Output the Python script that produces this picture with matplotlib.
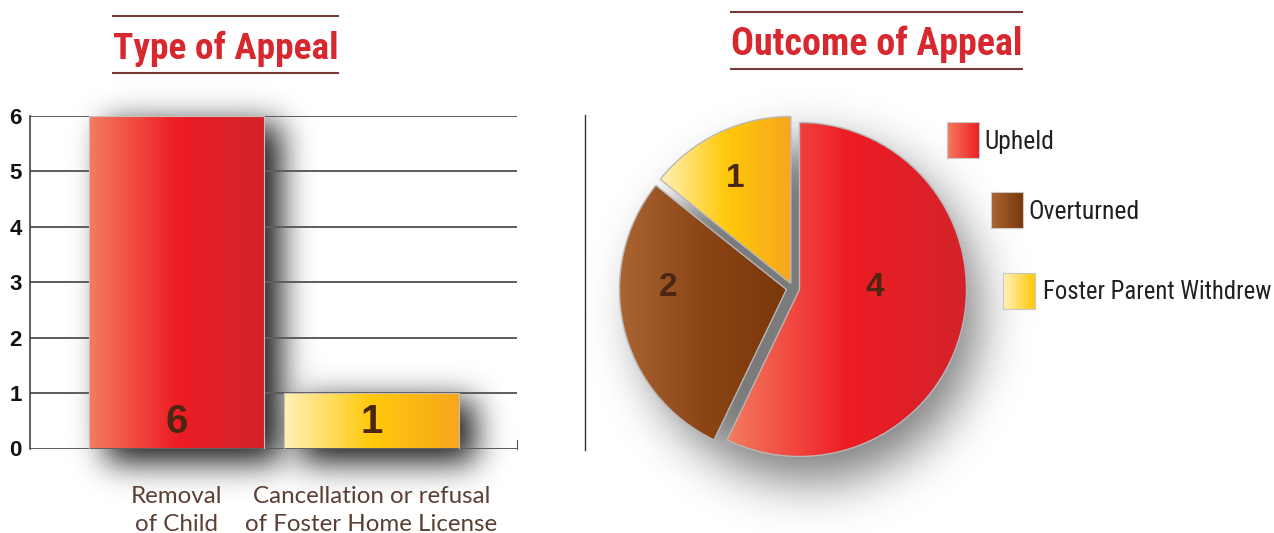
import numpy as np
import matplotlib
matplotlib.use('Agg')
import matplotlib.pyplot as plt
from matplotlib.colors import LinearSegmentedColormap
from matplotlib.lines import Line2D
from matplotlib import font_manager

# data
appeal_types = ['Removal\nof Child', 'Cancellation or refusal\nof Foster Home License']
appeal_counts = [6, 1]
outcomes = ['Upheld', 'Overturned', 'Foster Parent Withdrew']
outcome_counts = [4, 2, 1]
y_ticks = [0, 1, 2, 3, 4, 5, 6]

RED = ['#f47c5f', '#ed1c24', '#d2232a']
BROWN = ['#ab6533', '#8c4517', '#793709']
YELLOW = ['#fff2b8', '#ffc90b', '#f7a71c']
TITLE_RED = '#d7282f'
DARK_BROWN = '#4b2613'

W, H = 1274, 533
entries = font_manager.fontManager.ttflist
names = {f.name for f in entries}


def find_condensed():
    for p in ['Liberation Sans Narrow', 'Roboto Condensed', 'Open Sans Condensed',
              'Noto Sans Condensed', 'DejaVu Sans Condensed']:
        if p in names:
            return p, 'normal'
    for f in entries:
        if 'Narrow' in f.name or 'Condensed' in f.name:
            return f.name, 'normal'
    for fam in ['Noto Sans', 'Open Sans', 'Roboto', 'DejaVu Sans', 'Lato']:
        for f in entries:
            if f.name == fam and 'condensed' in str(f.stretch):
                return fam, f.stretch
    return 'Liberation Sans', 'normal'


COND, COND_STRETCH = find_condensed()
LIGHT = 'Lato' if 'Lato' in names else 'DejaVu Sans'


def fx(px):
    return px / W


def fy(py):
    return 1 - py / H


def phi(z):
    return 0.5 * (1 + np.tanh(0.7978845608 * (z + 0.044715 * z ** 3)))


def fit(txt, width_px):
    r = fig.canvas.get_renderer()
    for _ in range(3):
        w = txt.get_window_extent(r).width
        txt.set_fontsize(txt.get_fontsize() * width_px / w)
    return txt.get_fontsize()


def gradient(ax, patch, colors, extent, z):
    cmap = LinearSegmentedColormap.from_list('g', colors)
    im = ax.imshow(np.linspace(0, 1, 256)[None, :], cmap=cmap, extent=extent,
                   aspect='auto', interpolation='bilinear', zorder=z)
    im.set_clip_path(patch)
    return im


fig = plt.figure(figsize=(W / 100, H / 100), dpi=100)

# ---------- bar chart ----------
xlim = (-0.7513, 1.7462)
ax = fig.add_axes([fx(30), fy(448.5), fx(517) - fx(30), fy(116) - fy(448.5)])
xpos = np.arange(len(appeal_counts))
bars = ax.bar(xpos, appeal_counts, width=0.897, facecolor='none',
              edgecolor='#cbbfb5', linewidth=0.8, zorder=4)
for b, cols in zip(bars, [RED, YELLOW]):
    gradient(ax, b, cols, [b.get_x(), b.get_x() + b.get_width(), 0, b.get_height()], 3)

ax.set_xlim(*xlim)
ax.set_ylim(0, 6)

# soft drop shadow behind bars
bb = ax.get_window_extent()
sx = bb.width / (xlim[1] - xlim[0])
sy = bb.height / 6
gx = np.linspace(xlim[0] - 0.1, xlim[1] + 0.3, 520)
gy = np.linspace(-1.2, 6.8, 440)
keep = np.ones((gy.size, gx.size))
for b in bars:
    x0 = b.get_x() + 16 / sx
    x1 = x0 + b.get_width()
    y0 = -14 / sy
    y1 = b.get_height() - 8 / sy
    fxv = phi((gx - x0) / (16 / sx)) - phi((gx - x1) / (16 / sx))
    fyv = phi((gy - y0) / (16 / sy)) - phi((gy - y1) / (16 / sy))
    keep *= 1 - 0.92 * np.outer(fyv, fxv)
shadow = np.zeros((gy.size, gx.size, 4))
shadow[..., 3] = 1 - keep
ax.imshow(shadow, origin='lower', extent=[gx[0], gx[-1], gy[0], gy[-1]],
          aspect='auto', zorder=1, clip_on=False)
ax.set_xlim(*xlim)
ax.set_ylim(0, 6)

ax.set_yticks(y_ticks)
ax.set_xticks([])
ax.set_axisbelow('line')
ax.grid(axis='y', color='#5c5c5c', linewidth=1.4)
ax.tick_params(axis='y', length=0, pad=6, labelsize=16, labelcolor='#111111')
for t in ax.get_yticklabels():
    t.set_fontweight('bold')
    t.set_fontfamily('Liberation Sans')
ax.spines['top'].set_visible(False)
ax.spines['bottom'].set_visible(False)
ax.spines['left'].set_color('#444444')
ax.spines['left'].set_linewidth(1.2)
ax.spines['right'].set_color('#555555')
ax.spines['right'].set_bounds(0, 0.15)

for xi, v in zip(xpos, appeal_counts):
    ax.text(xi, 0.47, str(v), ha='center', va='center', fontsize=29,
            fontweight='bold', family='Liberation Sans', color=DARK_BROWN, zorder=5)

# category labels, one text per line (baselines ~54 and ~82 px under the axis)
line_offsets = [-39.2, -59.4]
cat_texts = []
for xi, lab in zip(xpos, appeal_types):
    for line, off in zip(lab.split('\n'), line_offsets):
        t = ax.annotate(line, xy=(xi, 0), xycoords=ax.get_xaxis_transform(),
                        xytext=(0, off), textcoords='offset points', ha='center',
                        va='baseline', fontsize=16, family=LIGHT,
                        color='#5b3f33', annotation_clip=False)
        cat_texts.append(t)
size = fit(cat_texts[-1], 253)
for t in cat_texts:
    t.set_fontsize(size)

# ---------- titles ----------
t1 = fig.text(fx(225.5), fy(59), 'Type of Appeal', ha='center', va='baseline',
              fontsize=26, fontweight='bold', family=COND, fontstretch=COND_STRETCH,
              color=TITLE_RED)
fit(t1, 225)
t2 = fig.text(fx(876.5), fy(55), 'Outcome of Appeal', ha='center', va='baseline',
              fontsize=26, fontweight='bold', family=COND, fontstretch=COND_STRETCH,
              color=TITLE_RED)
fit(t2, 291)
for x0, x1, ys in [(113, 338, (16, 73)), (731, 1022, (12, 69))]:
    for yy in ys:
        fig.add_artist(Line2D([fx(x0), fx(x1)], [fy(yy), fy(yy)],
                              transform=fig.transFigure, color='#7a3a3a', lw=1.5))

# separator
fig.add_artist(Line2D([fx(585), fx(585)], [fy(115), fy(450)],
                      transform=fig.transFigure, color='#333333', lw=1))

# ---------- pie ----------
R = 167
cx, cy = 793, 288
ax2 = fig.add_axes([fx(cx - 1.25 * R), fy(cy + 1.25 * R), 2.5 * R / W, 2.5 * R / H])
total = sum(outcome_counts)
wedges, _, autotexts = ax2.pie(
    outcome_counts, explode=[0.04, 0.04, 0.03], startangle=90,
    counterclock=False, autopct=lambda p: f'{p * total / 100:.0f}', pctdistance=0.6,
    wedgeprops=dict(facecolor='none', edgecolor='#b8b8b8', linewidth=1, zorder=3),
    textprops=dict(fontsize=24, fontweight='bold', family='Liberation Sans',
                   color=DARK_BROWN, zorder=4))
for w, cols in zip(wedges, [RED, BROWN, YELLOW]):
    v = w.get_path().vertices
    gradient(ax2, w, cols, [v[:, 0].min(), v[:, 0].max(), v[:, 1].min(), v[:, 1].max()], 2)

# hand placed number positions (radius, angle in degrees) as in the original
label_spots = [(0.49, 0), (0.75, 180), (0.74, 118)]
for t, (r, a) in zip(autotexts, label_spots):
    t.set_position((r * np.cos(np.radians(a)), r * np.sin(np.radians(a))))

g = np.linspace(-1.9, 1.9, 380)
X, Y = np.meshgrid(g, g)
d = np.hypot(X - 0.1, Y + 0.15)
pshadow = np.zeros(X.shape + (4,))
pshadow[..., 3] = 0.52 * (1 - phi((d - 1.0) / 0.15))
ax2.imshow(pshadow, origin='lower', extent=[g[0], g[-1], g[0], g[-1]],
           aspect='auto', zorder=1, clip_on=False)
ax2.set_xlim(-1.25, 1.25)
ax2.set_ylim(-1.25, 1.25)
ax2.set_axis_off()

# ---------- legend ----------
legend_layout = [((947, 122), 984, 149, 70),
                 ((991, 192), 1028, 219, 112),
                 ((1003, 273), 1043, 299, 227)]
swatch_cols = [[RED[0], RED[1]], [BROWN[0], BROWN[2]], [YELLOW[0], YELLOW[1]]]
for lab, cols, (sw, tx, ty, tw) in zip(outcomes, swatch_cols, legend_layout):
    axl = fig.add_axes([fx(sw[0]), fy(sw[1] + 36), 32 / W, 36 / H])
    axl.imshow(np.linspace(0, 1, 64)[None, :], cmap=LinearSegmentedColormap.from_list('s', cols),
               aspect='auto', extent=[0, 1, 0, 1])
    axl.set_xticks([])
    axl.set_yticks([])
    for s in axl.spines.values():
        s.set_color('#c8c8c8')
        s.set_linewidth(0.8)
    t = fig.text(fx(tx), fy(ty), lab, ha='left', va='baseline', fontsize=19,
                 family=COND, fontstretch=COND_STRETCH, color='#231f20')
    fit(t, tw)

fig.savefig('out.png', dpi=100)
